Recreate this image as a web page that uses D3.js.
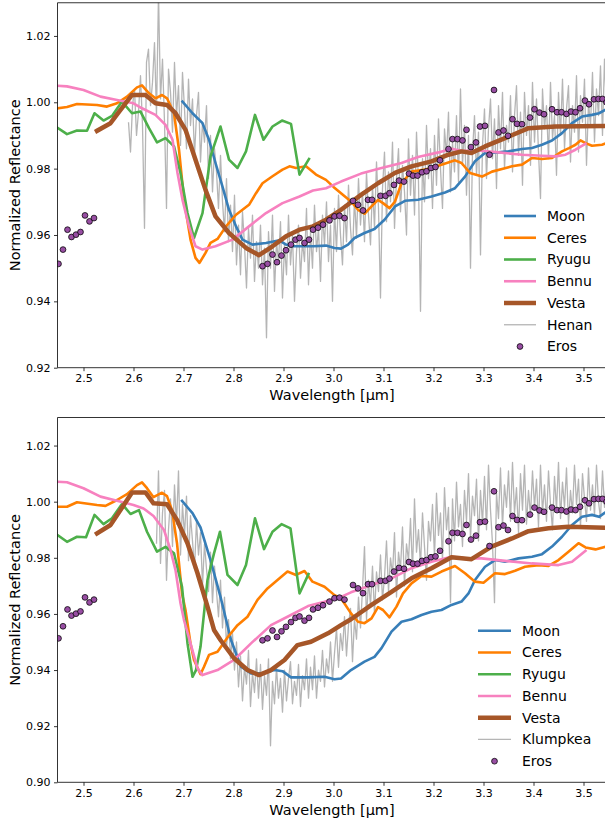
<!DOCTYPE html>
<html><head><meta charset="utf-8">
<script src="https://cdn.jsdelivr.net/npm/d3@7"></script>
<style>body{margin:0;background:#fff}svg{display:block}text{font-family:"DejaVu Sans",sans-serif;fill:#000}</style>
</head><body><svg id="c" width="605" height="818"></svg>
<script>
// ---------- DATA ----------
const xTicks = [2.5,2.6,2.7,2.8,2.9,3.0,3.1,3.2,3.3,3.4,3.5];
const yTicksTop = [0.92,0.94,0.96,0.98,1.00,1.02];
const yTicksBottom = [0.90,0.92,0.94,0.96,0.98,1.00,1.02];
const seriesNames = ["Moon","Ceres","Ryugu","Bennu","Vesta"];

// Top panel (Henan)
const moonTop = [[2.698,1.0002],[2.718,0.9967],[2.738,0.9937],[2.751,0.9887],[2.764,0.9817],[2.778,0.9746],[2.791,0.9676],[2.805,0.9626],[2.818,0.9586],[2.838,0.9571],[2.865,0.9576],[2.892,0.9584],[2.905,0.9571],[2.918,0.9566],[2.959,0.9566],[2.985,0.9568],[3.002,0.9561],[3.015,0.9559],[3.029,0.9571],[3.042,0.9591],[3.062,0.9606],[3.082,0.9618],[3.102,0.9646],[3.123,0.9686],[3.143,0.9703],[3.169,0.9706],[3.196,0.9716],[3.223,0.9728],[3.243,0.9741],[3.263,0.9776],[3.283,0.9822],[3.303,0.9847],[3.33,0.9849],[3.35,0.9852],[3.377,0.9859],[3.397,0.9862],[3.417,0.9872],[3.437,0.9885],[3.457,0.9907],[3.477,0.9937],[3.497,0.9957],[3.517,0.9962],[3.531,0.9967],[3.55,0.9982]];
const ceresTop = [[2.448,0.9982],[2.467,0.9986],[2.487,0.9995],[2.527,0.9992],[2.547,0.9987],[2.567,0.9997],[2.587,1.0017],[2.607,1.0045],[2.617,1.0051],[2.631,1.0027],[2.644,1.0012],[2.657,1.0022],[2.667,1.0012],[2.681,0.9967],[2.691,0.9857],[2.701,0.9706],[2.714,0.9586],[2.724,0.9531],[2.732,0.9516],[2.744,0.9546],[2.754,0.9576],[2.768,0.9588],[2.785,0.9626],[2.805,0.9661],[2.831,0.9691],[2.845,0.9726],[2.858,0.9756],[2.878,0.9777],[2.898,0.9797],[2.912,0.9807],[2.925,0.9802],[2.945,0.9807],[2.965,0.9782],[2.985,0.9766],[3.0,0.9745],[3.015,0.9726],[3.035,0.9701],[3.049,0.9676],[3.062,0.9664],[3.076,0.9686],[3.089,0.9706],[3.099,0.9696],[3.112,0.9681],[3.123,0.9701],[3.136,0.9756],[3.156,0.9791],[3.183,0.9797],[3.216,0.9812],[3.243,0.9825],[3.256,0.9817],[3.273,0.9787],[3.297,0.9776],[3.317,0.9791],[3.337,0.9799],[3.357,0.9807],[3.377,0.9812],[3.397,0.9832],[3.417,0.9829],[3.437,0.9832],[3.457,0.9852],[3.471,0.9862],[3.484,0.9872],[3.494,0.9885],[3.504,0.9877],[3.517,0.9869],[3.537,0.9872],[3.55,0.9879]];
const ryuguTop = [[2.448,0.9923],[2.467,0.9904],[2.487,0.9915],[2.507,0.9914],[2.522,0.9967],[2.54,0.9945],[2.557,0.9959],[2.577,1.0002],[2.597,0.9967],[2.614,0.9972],[2.631,0.9922],[2.647,0.9879],[2.664,0.9892],[2.681,0.9867],[2.694,0.9787],[2.708,0.9666],[2.721,0.9591],[2.738,0.9666],[2.754,0.9837],[2.774,0.9927],[2.791,0.9827],[2.808,0.9802],[2.825,0.9852],[2.843,0.9962],[2.86,0.9887],[2.878,0.9927],[2.897,0.9945],[2.915,0.9935],[2.932,0.9782],[2.951,0.9829]];
const bennuTop = [[2.448,1.005],[2.467,1.0048],[2.5,1.0037],[2.534,1.0017],[2.567,1.0007],[2.6,0.9997],[2.617,0.9982],[2.644,0.9962],[2.664,0.9932],[2.678,0.9887],[2.688,0.9787],[2.698,0.9706],[2.711,0.9626],[2.724,0.9566],[2.738,0.9556],[2.764,0.9566],[2.798,0.9586],[2.831,0.9626],[2.865,0.9666],[2.898,0.9696],[2.932,0.9716],[2.959,0.9734],[2.985,0.9741],[3.015,0.9761],[3.055,0.9785],[3.096,0.9802],[3.136,0.9817],[3.169,0.9835],[3.21,0.9849],[3.236,0.986],[3.256,0.9854],[3.297,0.9854],[3.33,0.9849],[3.377,0.9842],[3.417,0.9839],[3.444,0.9837],[3.464,0.9842],[3.484,0.9857],[3.504,0.9875]];
const vestaTop = [[2.527,0.9914],[2.554,0.9937],[2.574,0.9977],[2.597,1.0022],[2.624,1.0022],[2.644,0.9997],[2.667,0.9992],[2.684,0.9967],[2.704,0.9917],[2.724,0.9827],[2.744,0.9736],[2.764,0.9656],[2.791,0.9606],[2.825,0.9561],[2.851,0.9539],[2.878,0.9566],[2.905,0.9596],[2.932,0.9616],[2.959,0.9626],[2.985,0.9646],[3.015,0.9676],[3.055,0.9721],[3.089,0.9756],[3.123,0.9787],[3.156,0.9807],[3.196,0.9822],[3.23,0.9842],[3.256,0.9852],[3.276,0.9847],[3.303,0.9867],[3.343,0.9892],[3.39,0.9922],[3.444,0.9927],[3.55,0.9929]];
// Henan meteorite spectrum, sampled from 2.590 um every 0.004 um
const henanStart = 2.590, henanStep = 0.004;
const henan = [
0.994,0.985,0.999,1.004,0.990,0.997,1.008,0.993,0.962,1.012,1.016,0.999,1.006,1.018,0.996,1.033,
1.001,1.013,0.994,0.968,1.010,1.003,0.991,1.012,0.996,1.005,0.987,1.009,
0.998,0.986,1.007,0.993,1.001,0.984,0.996,1.003,0.982,0.994,0.988,0.999,0.977,
0.990,0.973,0.986,0.979,0.968,0.984,0.970,0.961,0.977,0.958,0.969,0.955,
0.972,0.951,0.963,0.948,0.967,0.957,0.944,0.962,0.953,0.966,0.946,0.958,0.950,
0.963,0.945,0.956,0.929,0.961,0.950,0.966,0.943,0.958,0.952,0.964,0.941,
0.957,0.948,0.966,0.951,0.960,0.940,0.955,0.963,0.947,0.958,0.952,0.968,0.945,
0.961,0.950,0.969,0.955,0.962,0.946,0.966,0.957,0.970,0.952,0.963,0.940,
0.968,0.955,0.972,0.960,0.951,0.969,0.958,0.975,0.962,0.954,0.971,0.959,0.977,
0.963,0.973,0.958,0.979,0.966,0.957,0.975,0.962,0.982,0.968,0.941,0.974,
0.985,0.964,0.979,0.970,0.988,0.962,0.977,0.986,0.967,0.981,0.973,0.960,0.989,
0.972,0.984,0.966,0.991,0.976,0.937,0.983,0.970,0.993,0.977,0.986,0.968,
0.990,0.975,0.995,0.980,0.968,0.992,0.984,0.997,0.973,0.988,0.979,0.996,0.976,
1.004,0.981,0.993,0.972,0.990,0.950,0.985,0.996,0.978,0.991,0.954,0.987,
0.998,0.977,0.992,1.001,0.983,0.995,0.974,0.999,0.986,1.003,0.980,0.993,0.988,
1.002,0.979,0.996,1.005,0.984,0.997,0.975,1.003,0.990,0.999,0.981,1.006,
0.988,1.001,0.985,0.971,1.004,0.992,0.999,0.983,1.006,0.989,0.996,0.978,1.003,
0.990,1.007,0.986,0.998,1.005,0.982,0.999,0.991,1.008,0.985,1.002,0.994,
1.007,0.981,1.000,0.993,1.009,0.988,1.004,0.996,1.011,0.990,1.013,0.998,1.008];

// Bottom panel (Klumpkea)
const moonBot = [[2.697,1.0003],[2.718,0.9959],[2.734,0.9908],[2.754,0.9792],[2.774,0.9661],[2.795,0.9507],[2.815,0.9412],[2.835,0.9388],[2.855,0.9388],[2.882,0.94],[2.898,0.9396],[2.915,0.9374],[2.949,0.9374],[2.982,0.9376],[3.002,0.9367],[3.015,0.937],[3.035,0.94],[3.062,0.943],[3.082,0.9447],[3.096,0.9478],[3.116,0.9537],[3.136,0.9572],[3.156,0.9581],[3.176,0.9596],[3.196,0.9608],[3.216,0.9614],[3.236,0.9632],[3.256,0.9644],[3.27,0.9673],[3.283,0.9721],[3.303,0.9768],[3.323,0.9792],[3.343,0.9786],[3.37,0.9798],[3.397,0.9804],[3.417,0.9813],[3.437,0.984],[3.457,0.9875],[3.477,0.9917],[3.497,0.9946],[3.517,0.9953],[3.531,0.9946],[3.55,0.997]];
const ceresBot = [[2.448,0.9982],[2.467,0.9982],[2.487,0.9998],[2.527,0.9988],[2.544,0.9985],[2.567,1.0006],[2.587,1.0027],[2.607,1.0059],[2.617,1.0069],[2.627,1.0048],[2.64,1.0016],[2.657,1.0032],[2.667,1.002],[2.677,0.997],[2.687,0.9852],[2.697,0.9673],[2.704,0.9614],[2.714,0.9495],[2.721,0.9436],[2.734,0.9385],[2.741,0.9412],[2.751,0.9454],[2.768,0.9465],[2.788,0.9516],[2.808,0.956],[2.828,0.959],[2.848,0.965],[2.868,0.9691],[2.888,0.9721],[2.908,0.9751],[2.925,0.9739],[2.942,0.9753],[2.958,0.9715],[2.982,0.9697],[3.002,0.9667],[3.015,0.9656],[3.035,0.9602],[3.049,0.9572],[3.062,0.9567],[3.076,0.9584],[3.089,0.9624],[3.099,0.9614],[3.112,0.9588],[3.126,0.9626],[3.139,0.9673],[3.156,0.9709],[3.176,0.9735],[3.196,0.9733],[3.216,0.9751],[3.243,0.9771],[3.263,0.9745],[3.283,0.9715],[3.3,0.9711],[3.323,0.9745],[3.343,0.9742],[3.363,0.9754],[3.383,0.9768],[3.41,0.9774],[3.43,0.9771],[3.45,0.9792],[3.47,0.9822],[3.49,0.9852],[3.504,0.9837],[3.524,0.983],[3.55,0.9842]];
const ryuguBot = [[2.448,0.9881],[2.467,0.9857],[2.487,0.9875],[2.505,0.9873],[2.522,0.9953],[2.54,0.992],[2.557,0.9941],[2.577,0.9992],[2.594,0.9956],[2.611,0.997],[2.627,0.9893],[2.647,0.9822],[2.664,0.9839],[2.681,0.9816],[2.697,0.9697],[2.708,0.9495],[2.718,0.9376],[2.725,0.94],[2.734,0.9483],[2.748,0.9721],[2.761,0.9816],[2.773,0.9893],[2.788,0.9739],[2.808,0.9703],[2.825,0.9774],[2.843,0.9941],[2.861,0.9831],[2.878,0.9893],[2.896,0.992],[2.914,0.9905],[2.932,0.9673],[2.95,0.9742]];
const bennuBot = [[2.448,1.0071],[2.467,1.0069],[2.5,1.0048],[2.534,1.0018],[2.567,1.0003],[2.6,0.9988],[2.62,0.9976],[2.64,0.9949],[2.661,0.9899],[2.674,0.9828],[2.684,0.9756],[2.694,0.9638],[2.701,0.9578],[2.714,0.9495],[2.728,0.9406],[2.738,0.9382],[2.768,0.94],[2.801,0.9436],[2.835,0.9495],[2.875,0.956],[2.908,0.959],[2.949,0.9628],[2.982,0.9643],[3.015,0.9661],[3.035,0.9677],[3.076,0.9703],[3.116,0.9727],[3.156,0.9763],[3.196,0.9786],[3.236,0.9804],[3.263,0.9798],[3.296,0.9798],[3.343,0.9789],[3.397,0.978],[3.45,0.9774],[3.477,0.9786],[3.504,0.9825]];
const vestaBot = [[2.527,0.9887],[2.554,0.9917],[2.574,0.997],[2.597,1.0033],[2.624,1.0033],[2.64,0.9994],[2.667,0.9991],[2.687,0.9935],[2.708,0.9852],[2.728,0.9745],[2.748,0.9626],[2.761,0.9543],[2.774,0.9507],[2.801,0.9442],[2.828,0.94],[2.851,0.9382],[2.875,0.94],[2.902,0.9436],[2.928,0.9489],[2.955,0.9501],[2.989,0.9531],[3.015,0.956],[3.035,0.9581],[3.076,0.9632],[3.116,0.9679],[3.156,0.9727],[3.196,0.9763],[3.236,0.9802],[3.276,0.9795],[3.316,0.984],[3.357,0.9869],[3.39,0.9895],[3.43,0.9905],[3.47,0.9911],[3.55,0.9907]];
// Klumpkea meteorite spectrum, sampled from 2.646 um every 0.004 um
const klumpkeaStart = 2.646, klumpkeaStep = 0.004;
const klumpkea = [
0.985,1.011,0.978,0.996,1.004,0.972,0.990,1.001,0.984,1.006,0.992,1.011,0.981,0.999,
0.988,1.002,0.979,0.995,0.986,0.976,0.993,0.981,0.989,0.970,0.985,0.976,0.968,
0.982,0.964,0.977,0.968,0.959,0.972,0.955,0.966,0.948,0.958,0.944,0.953,
0.940,0.950,0.934,0.945,0.929,0.941,0.935,0.947,0.927,0.939,0.932,0.944,0.930,
0.942,0.926,0.938,0.931,0.944,0.913,0.936,0.928,0.941,0.930,0.937,0.925,
0.940,0.929,0.937,0.943,0.928,0.936,0.931,0.942,0.927,0.938,0.933,0.944,0.930,
0.941,0.933,0.945,0.930,0.940,0.936,0.947,0.934,0.944,0.939,0.950,0.936,
0.946,0.955,0.941,0.953,0.947,0.959,0.945,0.956,0.962,0.943,0.958,0.951,0.966,
0.955,0.969,0.984,0.958,0.972,0.963,0.977,0.960,0.975,0.968,0.981,0.965,
0.973,0.986,0.968,0.980,0.974,0.989,0.966,0.982,0.976,0.991,0.970,0.985,0.979,
0.994,0.975,1.001,0.982,0.990,0.977,0.996,0.984,0.972,0.993,0.986,0.999,
0.980,1.003,0.988,0.996,0.979,1.005,0.990,0.998,0.964,1.001,0.986,1.007,0.991,
0.999,0.984,1.004,0.993,1.010,0.987,1.002,0.995,1.008,0.986,1.004,0.992,
1.009,0.990,1.013,0.997,0.985,0.964,1.003,0.994,1.012,0.991,1.006,0.998,1.011,
0.993,1.014,0.996,1.005,0.989,1.010,0.997,1.013,0.992,1.004,0.995,1.011,
0.998,1.008,0.991,1.013,0.996,1.006,0.993,1.011,0.999,0.990,1.009,0.997,1.014,
0.994,1.007,0.998,1.012,0.992,1.004,0.996,1.013,0.999,1.008,0.991,1.010,
1.001,0.993,1.012,0.997,1.006,0.995,1.013,1.000,0.994,1.011,0.998,1.009,1.002];

// Eros (same in both panels)
const eros = [[2.450,0.9513],[2.459,0.9556],[2.468,0.9616],[2.476,0.9594],[2.485,0.9601],[2.494,0.9609],[2.503,0.9659],[2.512,0.9641],[2.521,0.9651],
[2.858,0.9506],[2.868,0.9513],[2.878,0.9541],[2.887,0.9518],[2.896,0.9538],[2.905,0.9554],[2.915,0.9571],[2.924,0.9586],[2.932,0.9591],[2.942,0.9576],[2.951,0.9586],[2.959,0.9616],[2.969,0.9622],[2.979,0.9631],[2.992,0.9644],[3.002,0.9656],[3.012,0.9658],[3.022,0.9651],[3.039,0.9703],[3.049,0.9691],[3.059,0.9674],[3.069,0.9706],[3.077,0.9706],[3.094,0.9718],[3.104,0.9718],[3.112,0.9726],[3.121,0.9751],[3.131,0.9764],[3.141,0.9761],[3.151,0.9785],[3.159,0.9779],[3.168,0.9779],[3.177,0.9789],[3.186,0.9792],[3.195,0.9802],[3.204,0.9805],[3.213,0.9825],[3.23,0.9859],[3.238,0.9889],[3.248,0.9889],[3.258,0.9885],[3.266,0.9917],[3.275,0.9865],[3.285,0.9879],[3.293,0.9927],[3.303,0.9929],[3.312,0.9842],[3.321,1.0037],[3.33,0.9909],[3.34,0.9915],[3.349,0.9899],[3.358,0.9949],[3.367,0.9935],[3.377,0.9934],[3.393,0.9954],[3.402,0.9979],[3.412,0.9969],[3.421,0.9964],[3.437,0.9979],[3.447,0.997],[3.456,0.997],[3.466,0.9965],[3.475,0.9972],[3.484,0.997],[3.493,0.9982],[3.503,1.0005],[3.511,0.9994],[3.521,1.0009],[3.53,1.001],[3.538,1.001],[3.546,1.0]];

const colors = {Moon:"#377eb8",Ceres:"#ff7f00",Ryugu:"#4daf4a",Bennu:"#f781bf",Vesta:"#a65628",meteor:"#999999",Eros:"#984ea3"};

// ---------- DRAW ----------
const svg = d3.select("#c");
svg.append("rect").attr("width",605).attr("height",818).attr("fill","#fff");
const x = d3.scaleLinear().domain([2.448,3.55]).range([57.5,608.5]);

const panels = [
  {id:"t", top:2.75, bottom:367.7, dom:[0.92,1.03], yt:yTicksTop,
   lines:{Moon:moonTop,Ceres:ceresTop,Ryugu:ryuguTop,Bennu:bennuTop,Vesta:vestaTop},
   meteorName:"Henan", meteor:henan, mStart:henanStart, mStep:henanStep,
   leg:{y0:216,dy:21.75,x0:504,x1:536,tx:547}},
  {id:"b", top:417.5, bottom:782.3, dom:[0.90,1.03], yt:yTicksBottom,
   lines:{Moon:moonBot,Ceres:ceresBot,Ryugu:ryuguBot,Bennu:bennuBot,Vesta:vestaBot},
   meteorName:"Klumpkea", meteor:klumpkea, mStart:klumpkeaStart, mStep:klumpkeaStep,
   leg:{y0:630.7,dy:21.75,x0:478,x1:511,tx:522}}
];

panels.forEach(p=>{
  const y = d3.scaleLinear().domain(p.dom).range([p.bottom,p.top]);
  const defs = svg.append("defs");
  defs.append("clipPath").attr("id","clip"+p.id).append("rect")
    .attr("x",57.5).attr("y",p.top).attr("width",551).attr("height",p.bottom-p.top);
  const g = svg.append("g").attr("clip-path","url(#clip"+p.id+")");
  const line = d3.line().x(d=>x(d[0])).y(d=>y(d[1]));

  // meteorite spectrum
  const mPts = p.meteor.map((v,i)=>[p.mStart+i*p.mStep, v]);
  g.append("path").datum(mPts).attr("d",line).attr("fill","none")
    .attr("stroke",colors.meteor).attr("stroke-opacity",0.72).attr("stroke-width",1.3)
    .attr("stroke-linejoin","round");

  seriesNames.forEach(n=>{
    g.append("path").datum(p.lines[n]).attr("d",line).attr("fill","none")
      .attr("stroke",colors[n]).attr("stroke-width", n==="Vesta"?4.5:2.6)
      .attr("stroke-linejoin","round").attr("stroke-linecap","square");
  });

  g.selectAll("circle.e").data(eros).enter().append("circle")
    .attr("cx",d=>x(d[0])).attr("cy",d=>y(d[1])).attr("r",2.9)
    .attr("fill",colors.Eros).attr("stroke","#000").attr("stroke-width",0.75);

  // axes
  const xa = svg.append("g").attr("transform",`translate(0,${p.bottom})`)
    .call(d3.axisBottom(x).tickValues(xTicks).tickFormat(d3.format(".1f")).tickSize(3.5).tickPadding(3.5).tickSizeOuter(0));
  const ya = svg.append("g").attr("transform",`translate(57.5,0)`)
    .call(d3.axisLeft(y).tickValues(p.yt).tickFormat(d3.format(".2f")).tickSize(3.5).tickPadding(3.5).tickSizeOuter(0));
  [xa,ya].forEach(a=>{
    a.select(".domain").remove();
    a.selectAll("line").attr("stroke","#000").attr("stroke-width",0.8);
    a.selectAll("text").attr("font-size",11).attr("font-family","DejaVu Sans").attr("fill","#000");
  });
  // spines
  const sp = svg.append("g").attr("stroke","#000").attr("stroke-width",0.8);
  sp.append("line").attr("x1",57.5).attr("x2",608.5).attr("y1",p.top).attr("y2",p.top);
  sp.append("line").attr("x1",57.5).attr("x2",608.5).attr("y1",p.bottom).attr("y2",p.bottom);
  sp.append("line").attr("x1",57.5).attr("x2",57.5).attr("y1",p.top).attr("y2",p.bottom);

  // labels
  svg.append("text").attr("x",332).attr("y",p.bottom+32.5).attr("text-anchor","middle")
    .attr("font-size",14.5).text("Wavelength [µm]");
  svg.append("text").attr("transform",`translate(20,${(p.top+p.bottom)/2}) rotate(-90)`)
    .attr("text-anchor","middle").attr("font-size",14.5).text("Normalized Reflectance");

  // legend
  const L = p.leg;
  const items = seriesNames.concat([p.meteorName,"Eros"]);
  items.forEach((n,i)=>{
    const yy = L.y0 + i*L.dy;
    if(n==="Eros"){
      svg.append("circle").attr("cx",(L.x0+L.x1)/2).attr("cy",yy).attr("r",2.9)
        .attr("fill",colors.Eros).attr("stroke","#000").attr("stroke-width",0.75);
    } else {
      const isMet = n===p.meteorName;
      svg.append("line").attr("x1",L.x0).attr("x2",L.x1).attr("y1",yy).attr("y2",yy)
        .attr("stroke",isMet?colors.meteor:colors[n]).attr("stroke-opacity",isMet?0.72:1)
        .attr("stroke-width",n==="Vesta"?4.5:(isMet?1.3:2.6));
    }
    svg.append("text").attr("x",L.tx).attr("y",yy).attr("dy","0.35em")
      .attr("font-size",14).text(n);
  });
});
</script></body></html>
